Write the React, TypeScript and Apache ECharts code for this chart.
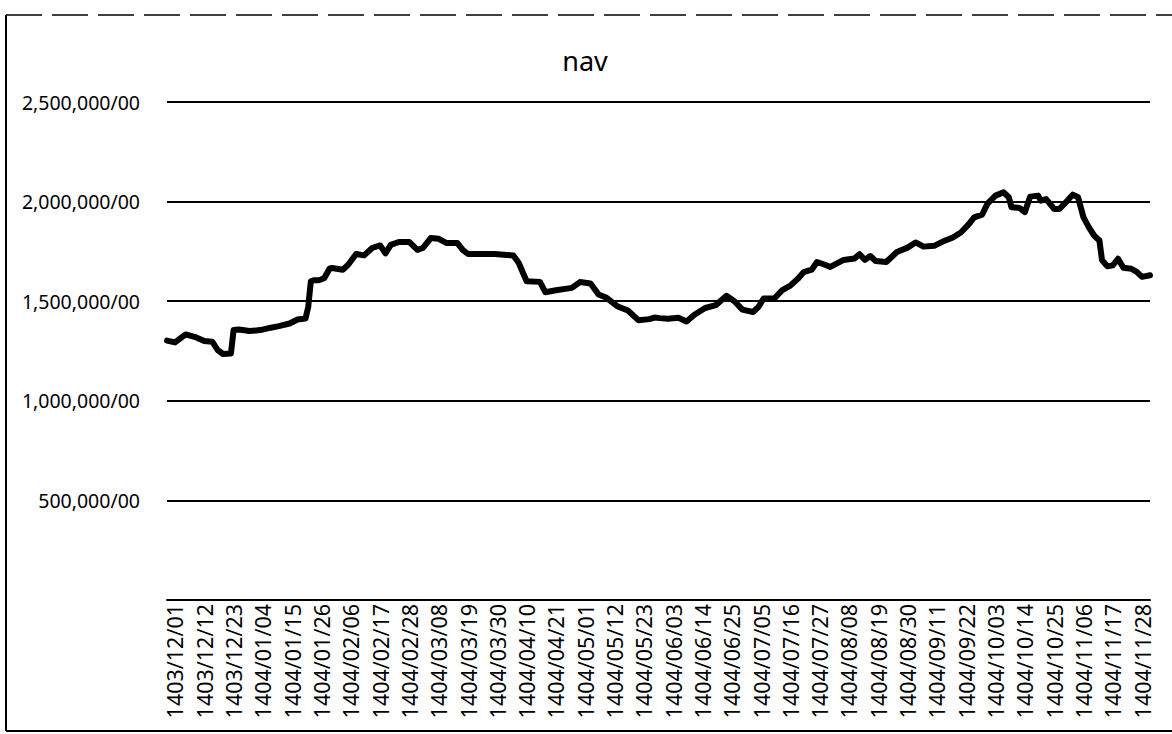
import React, { useEffect, useRef } from "react";
import * as echarts from "echarts";

// Persian calendar dates shown on the category axis (every 11 days)
const tickLabels: string[] = [
  "1403/12/01", "1403/12/12", "1403/12/23", "1404/01/04", "1404/01/15", "1404/01/26",
  "1404/02/06", "1404/02/17", "1404/02/28", "1404/03/08", "1404/03/19", "1404/03/30",
  "1404/04/10", "1404/04/21", "1404/05/01", "1404/05/12", "1404/05/23", "1404/06/03",
  "1404/06/14", "1404/06/25", "1404/07/05", "1404/07/16", "1404/07/27", "1404/08/08",
  "1404/08/19", "1404/08/30", "1404/09/11", "1404/09/22", "1404/10/03", "1404/10/14",
  "1404/10/25", "1404/11/06", "1404/11/17", "1404/11/28",
];

// Readings of the nav line (date, value)
const navDates: string[] = [
  "1403/11/28", "1403/12/01", "1403/12/05", "1403/12/09", "1403/12/12", "1403/12/15",
  "1403/12/17", "1403/12/19", "1403/12/22", "1403/12/23", "1403/12/25", "1403/12/29",
  "1404/01/03", "1404/01/07", "1404/01/10", "1404/01/14", "1404/01/17", "1404/01/20",
  "1404/01/21", "1404/01/22", "1404/01/23", "1404/01/25", "1404/01/27", "1404/01/29",
  "1404/01/30", "1404/02/03", "1404/02/05", "1404/02/08", "1404/02/11", "1404/02/14",
  "1404/02/17", "1404/02/19", "1404/02/21", "1404/02/24", "1404/02/28", "1404/02/31",
  "1404/03/02", "1404/03/05", "1404/03/08", "1404/03/11", "1404/03/15", "1404/03/17",
  "1404/03/19", "1404/03/29", "1404/04/05", "1404/04/07", "1404/04/10", "1404/04/15",
  "1404/04/17", "1404/04/21", "1404/04/27", "1404/04/30", "1404/05/03", "1404/05/06",
  "1404/05/09", "1404/05/13", "1404/05/17", "1404/05/21", "1404/05/25", "1404/05/27",
  "1404/05/29", "1404/06/01", "1404/06/05", "1404/06/08", "1404/06/11", "1404/06/15",
  "1404/06/19", "1404/06/23", "1404/06/26", "1404/06/29", "1404/07/02", "1404/07/04",
  "1404/07/06", "1404/07/10", "1404/07/13", "1404/07/16", "1404/07/19", "1404/07/21",
  "1404/07/24", "1404/07/26", "1404/07/29", "1404/08/01", "1404/08/06", "1404/08/10",
  "1404/08/12", "1404/08/14", "1404/08/16", "1404/08/18", "1404/08/22", "1404/08/26",
  "1404/08/30", "1404/09/03", "1404/09/06", "1404/09/10", "1404/09/13", "1404/09/17",
  "1404/09/20", "1404/09/23", "1404/09/25", "1404/09/28", "1404/09/30", "1404/10/03",
  "1404/10/06", "1404/10/08", "1404/10/09", "1404/10/12", "1404/10/14", "1404/10/16",
  "1404/10/19", "1404/10/20", "1404/10/22", "1404/10/25", "1404/10/27", "1404/10/30",
  "1404/11/02", "1404/11/04", "1404/11/06", "1404/11/08", "1404/11/10", "1404/11/12",
  "1404/11/13", "1404/11/15", "1404/11/17", "1404/11/19", "1404/11/21", "1404/11/24",
  "1404/11/26", "1404/11/28", "1404/12/01",
];

const navValues: number[] = [
  1302000, 1293000, 1333000, 1318000, 1300000, 1297000,
  1255000, 1235000, 1238000, 1355000, 1358000, 1350000,
  1355000, 1367000, 1375000, 1388000, 1408000, 1413000,
  1470000, 1600000, 1605000, 1605000, 1615000, 1663000,
  1667000, 1658000, 1683000, 1737000, 1730000, 1767000,
  1780000, 1740000, 1783000, 1797000, 1797000, 1758000,
  1767000, 1817000, 1813000, 1792000, 1792000, 1758000,
  1737000, 1737000, 1730000, 1693000, 1600000, 1597000,
  1545000, 1555000, 1567000, 1596000, 1589000, 1534000,
  1517000, 1475000, 1453000, 1404000, 1410000, 1418000,
  1415000, 1412000, 1417000, 1398000, 1432000, 1466000,
  1480000, 1527000, 1500000, 1458000, 1446000, 1471000,
  1514000, 1514000, 1556000, 1578000, 1615000, 1646000,
  1658000, 1697000, 1683000, 1672000, 1707000, 1714000,
  1736000, 1707000, 1727000, 1702000, 1697000, 1747000,
  1769000, 1795000, 1774000, 1778000, 1798000, 1820000,
  1845000, 1887000, 1921000, 1935000, 1990000, 2030000,
  2047000, 2022000, 1972000, 1968000, 1947000, 2025000,
  2030000, 2005000, 2013000, 1963000, 1963000, 2005000,
  2035000, 2022000, 1922000, 1872000, 1830000, 1805000,
  1705000, 1675000, 1680000, 1713000, 1668000, 1663000,
  1647000, 1622000, 1630000,
];

// Build the daily category list (Solar Hijri calendar) from the first to the last reading
function monthLength(y: number, m: number): number {
  if (m <= 6) return 31;
  if (m <= 11) return 30;
  return y === 1403 ? 30 : 29;
}
function pad(n: number) {
  return n < 10 ? "0" + n : String(n);
}
function buildDays(start: [number, number, number], end: [number, number, number]): string[] {
  const out: string[] = [];
  let [y, m, d] = start;
  for (;;) {
    const s = `${y}/${pad(m)}/${pad(d)}`;
    out.push(s);
    if (y === end[0] && m === end[1] && d === end[2]) break;
    d++;
    if (d > monthLength(y, m)) {
      d = 1;
      m++;
      if (m > 12) {
        m = 1;
        y++;
      }
    }
    if (out.length > 1000) break;
  }
  return out;
}

const yMax = 2500000;
const yStep = 500000;

export default function App() {
  const ref = useRef<HTMLDivElement>(null);
  useEffect(() => {
    if (!ref.current) return;
    const chart = echarts.init(ref.current, undefined, { renderer: "svg" });
    const days = buildDays([1403, 11, 28], [1404, 12, 1]);
    const tickSet = new Set(tickLabels);
    const font = "Noto Sans";
    chart.setOption({
      animation: false,
      backgroundColor: "#ffffff",
      title: {
        text: "nav",
        left: 580,
        textAlign: "center",
        top: 42,
        textStyle: { fontFamily: font, fontSize: 27, fontWeight: "normal", color: "#000" },
      },
      grid: { left: 167, right: 22, top: 102, bottom: 134, containLabel: false },
      xAxis: {
        type: "category",
        data: days,
        boundaryGap: false,
        axisLine: { show: true, lineStyle: { color: "#000", width: 2 } },
        axisTick: { show: false },
        splitLine: { show: false },
        axisLabel: {
          rotate: 90,
          interval: (_i: number, v: string) => tickSet.has(v),
          margin: 4,
          fontFamily: font,
          fontSize: 21.5,
          color: "#000",
        },
      },
      yAxis: {
        type: "value",
        min: 0,
        max: yMax,
        interval: yStep,
        axisLine: { show: false },
        axisTick: { show: false },
        splitLine: { show: true, lineStyle: { color: "#000", width: 2 } },
        axisLabel: {
          margin: 27,
          fontFamily: font,
          fontSize: 19.5,
          color: "#000",
          padding: [6, 0, 0, 0],
          formatter: (v: number) => (v === 0 ? "" : v.toLocaleString("en-US") + "/00"),
        },
      },
      series: [
        {
          type: "line",
          name: "nav",
          data: navDates.map((d, i) => [d, navValues[i]]),
          showSymbol: false,
          symbol: "none",
          lineStyle: { color: "#000", width: 6, join: "round", cap: "round" },
        },
      ],
      graphic: [
        { type: "line", shape: { x1: 6, y1: 15, x2: 6, y2: 731 }, style: { stroke: "#000", lineWidth: 2 } },
        { type: "line", shape: { x1: 6, y1: 731, x2: 1172, y2: 731 }, style: { stroke: "#000", lineWidth: 2 } },
        { type: "line", shape: { x1: 6, y1: 15, x2: 1172, y2: 15 }, style: { stroke: "#000", lineWidth: 1.5, lineDash: [36, 10] } },
      ],
    });
    return () => chart.dispose();
  }, []);
  return (
    <div
      ref={ref}
      style={{ position: "absolute", left: 0, top: 0, width: 1172, height: 734, background: "#fff" }}
    />
  );
}
